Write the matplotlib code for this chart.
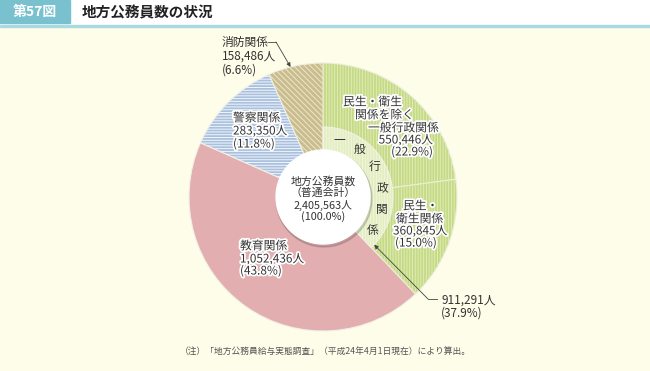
import matplotlib
matplotlib.use('Agg')
import matplotlib.pyplot as plt
import matplotlib.patheffects as pe
from matplotlib.patches import Rectangle, Circle
import numpy as np

plt.rcParams['font.family'] = ['Noto Sans CJK JP', 'DejaVu Sans']
plt.rcParams['hatch.linewidth'] = 0.7

# data
categories = ['民生・衛生関係を除く一般行政関係', '民生・衛生関係', '教育関係', '警察関係', '消防関係']
values = [550446, 360845, 1052436, 283350, 158486]
shares = ['22.9%', '15.0%', '43.8%', '11.8%', '6.6%']
general_total = 911291
general_share = '37.9%'
total = 2405563

colors = ['#c5da86', '#c5da86', '#e2aeb0', '#a9c1de', '#c9bd8e']
stripe_colors = ['#e0ecb4', '#e0ecb4', '#e2aeb0', '#f2f5fa', '#ede6cc']
hatches = ['||||||', '||||||', '', '------', '\\\\\\\\\\\\']

W, H = 650, 371
fig = plt.figure(figsize=(6.5, 3.71), dpi=100)
fig.patch.set_facecolor('#fefde9')
ax = fig.add_axes([0, 0, 1, 1])

def Y(y):
    return H - y

cx, cy = 323, Y(197)
R = 134

# header
ax.add_patch(Rectangle((0, Y(25)), W, 25, color='white', zorder=0))
ax.add_patch(Rectangle((0, Y(27)), W, 2.5, color='#a9d9e2', zorder=0))
ax.add_patch(Rectangle((0, Y(23)), 70, 23, color='#79c1cf', zorder=1))
ax.text(35, Y(12), '第57図', color='white', fontsize=10, fontweight='bold',
        ha='center', va='center')
ax.text(82, Y(12), '地方公務員数の状況', color='#222222', fontsize=10.5,
        fontweight='bold', ha='left', va='center')

# outer ring
wedges, _ = ax.pie(values, radius=R, center=(cx, cy), startangle=90, counterclock=False,
                   colors=colors, wedgeprops=dict(linewidth=0.8, edgecolor='#f0f0e6'))
over, _ = ax.pie(values, radius=R, center=(cx, cy), startangle=90, counterclock=False,
                 colors=['none'] * len(values), hatch=hatches)
for w, c in zip(over, stripe_colors):
    w.set_edgecolor(c)
    w.set_linewidth(0)

# inner ring for general administration
inner_vals = [general_total, total - general_total]
iw, _ = ax.pie(inner_vals, radius=70, center=(cx, cy), startangle=90, counterclock=False,
               colors=['#e3edc2', 'none'], wedgeprops=dict(linewidth=0.8, edgecolor='#f0f0e6'))
iw[1].set_edgecolor('none')
io, _ = ax.pie(inner_vals, radius=70, center=(cx, cy), startangle=90, counterclock=False,
               colors=['none', 'none'], hatch=['||||||', ''])
io[0].set_edgecolor('#f1f6dc')
io[0].set_linewidth(0)
io[1].set_edgecolor('none')

# center circle
ax.add_patch(Circle((cx + 1, cy - 2), 48, color='#00000022', zorder=5))
ax.add_patch(Circle((cx, cy), 47, color='white', zorder=6))

ax.set_xlim(0, W)
ax.set_ylim(0, H)
ax.set_aspect('auto')
ax.axis('off')

tc = '#333333'
halo = [pe.withStroke(linewidth=2.5, foreground='white')]
fs = 8.5

def lbl(x, y, s, ha='left', effects=halo, size=fs):
    ax.text(x, Y(y), s, fontsize=size, color=tc, ha=ha, va='center', zorder=8,
            path_effects=effects)

def leader(pts, tip):
    xs = [p[0] for p in pts]
    ys = [Y(p[1]) for p in pts]
    ax.plot(xs, ys, color='#444444', lw=0.6, zorder=9)
    ax.annotate('', xy=tip, xytext=(xs[-1], ys[-1]),
                arrowprops=dict(arrowstyle='-|>', color='#444444', lw=0.6,
                                mutation_scale=6, shrinkA=0, shrinkB=0), zorder=9)

# center text
for s, y in zip(['地方公務員数', '（普通会計）', f'{total:,}人', '(100.0%)'], [181, 193, 205, 217]):
    lbl(cx, y, s, ha='center', effects=None, size=7.8)

# general admin (excluding welfare)
lbl(343, 102, '民生・衛生')
lbl(355, 115, '関係を除く')
lbl(368, 128, '一般行政関係')
lbl(433, 140, f'{values[0]:,}人', ha='right')
lbl(433, 152, f'({shares[0]})', ha='right')

# welfare
lbl(403, 206, '民生・')
lbl(396, 219, '衛生関係')
lbl(393, 231, f'{values[1]:,}人')
lbl(395, 243, f'({shares[1]})')

# education
lbl(240, 246, categories[2])
lbl(240, 259, f'{values[2]:,}人')
lbl(240, 271, f'({shares[2]})')

# police
lbl(233, 118, categories[3])
lbl(233, 131, f'{values[3]:,}人')
lbl(233, 144, f'({shares[3]})')

# fire
lbl(222, 42, categories[4], effects=None)
lbl(222, 56, f'{values[4]:,}人', effects=None)
lbl(222, 70, f'({shares[4]})', effects=None)
a = np.deg2rad(104)
leader([(268, 42), (276, 42)], (cx + R * np.cos(a), cy + R * np.sin(a)))

# inner ring text along arc
for ch, ang in zip('一般行政関係', np.linspace(74, -34, 6)):
    t = np.deg2rad(ang)
    ax.text(cx + 60 * np.cos(t), cy + 60 * np.sin(t), ch, fontsize=fs, color=tc,
            ha='center', va='center', zorder=8)

# total general admin
lbl(441, 300, f'{general_total:,}人', effects=None)
lbl(441, 313, f'({general_share})', effects=None)
a = np.deg2rad(-43)
leader([(437, 299), (428, 299)], (cx + 70 * np.cos(a), cy + 70 * np.sin(a)))

# note
ax.text(325, Y(351), '（注）「地方公務員給与実態調査」（平成24年4月1日現在）により算出。',
        fontsize=6.3, color='#555555', ha='center', va='center')

fig.savefig('out.png', dpi=100, facecolor=fig.get_facecolor())
